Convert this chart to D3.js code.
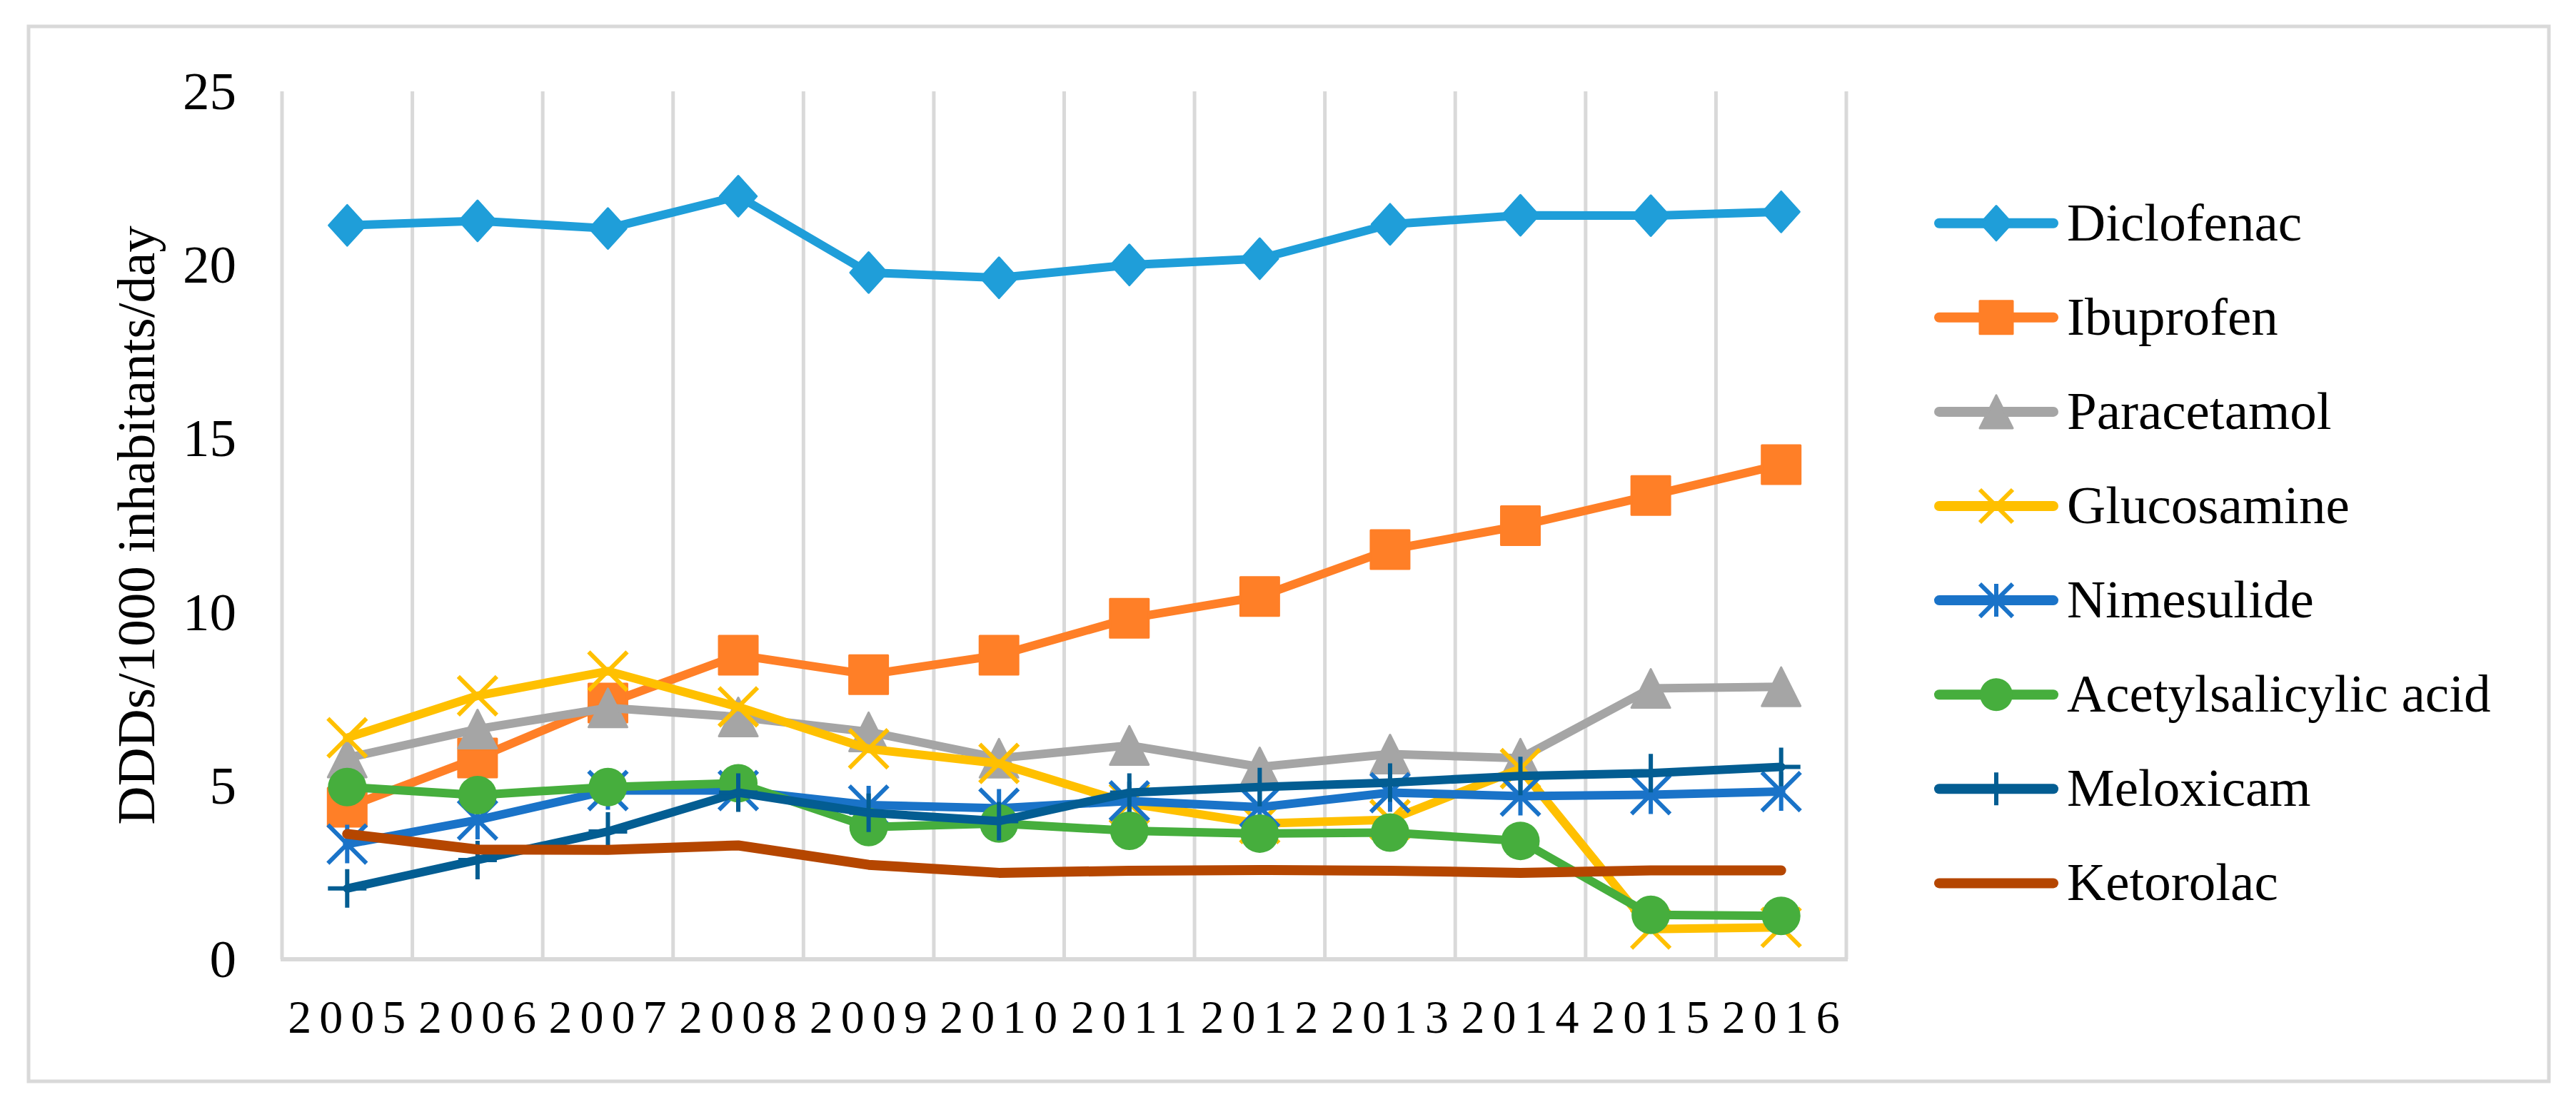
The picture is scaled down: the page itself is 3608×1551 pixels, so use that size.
<!DOCTYPE html>
<html>
<head>
<meta charset="utf-8">
<script src="https://cdn.jsdelivr.net/npm/d3@7"></script>
<style>
  body { margin: 0; background: #fff; }
  text { font-family: "Times New Roman", "Liberation Serif", serif; fill: #000; }
</style>
</head>
<body>
<div id="chart"></div>
<script>
// Data (DDDs/1000 inhabitants/day)
const years = ["2005", "2006", "2007", "2008", "2009", "2010", "2011", "2012", "2013", "2014", "2015", "2016"];
const yTicks = [0, 5, 10, 15, 20, 25];
const seriesNames = ["Diclofenac", "Ibuprofen", "Paracetamol", "Glucosamine", "Nimesulide", "Acetylsalicylic acid", "Meloxicam", "Ketorolac"];
const diclofenac = [21.14, 21.27, 21.05, 21.98, 19.78, 19.63, 20.00, 20.18, 21.17, 21.43, 21.42, 21.53];
const ibuprofen = [4.38, 5.80, 7.38, 8.76, 8.20, 8.76, 9.82, 10.45, 11.80, 12.49, 13.36, 14.25];
const paracetamol = [5.80, 6.63, 7.24, 6.98, 6.55, 5.79, 6.16, 5.54, 5.91, 5.79, 7.80, 7.85];
const glucosamine = [6.38, 7.59, 8.30, 7.27, 6.06, 5.64, 4.49, 3.91, 4.02, 5.49, 0.87, 0.92];
const nimesulide = [3.32, 4.01, 4.86, 4.86, 4.44, 4.35, 4.56, 4.38, 4.80, 4.70, 4.74, 4.83];
const acetylsalicylic = [4.96, 4.73, 4.96, 5.07, 3.81, 3.91, 3.70, 3.62, 3.65, 3.41, 1.28, 1.25];
const meloxicam = [2.04, 2.86, 3.68, 4.80, 4.22, 3.98, 4.80, 4.96, 5.09, 5.28, 5.36, 5.54];
const ketorolac = [3.61, 3.16, 3.15, 3.28, 2.72, 2.49, 2.55, 2.57, 2.55, 2.49, 2.56, 2.56];

const seriesValues = [diclofenac, ibuprofen, paracetamol, glucosamine, nimesulide, acetylsalicylic, meloxicam, ketorolac];
const colors = ["#1F9ED9", "#FF7F27", "#A5A5A5", "#FFC000", "#1A73C8", "#46AE3D", "#035D92", "#B54600"];
const markers = ["diamond", "square", "triangle", "x", "asterisk", "circle", "plus", "none"];

const width = 3608;
const height = 1551;

const svg = d3.select("#chart")
    .append("svg")
    .attr("width", width)
    .attr("height", height);

svg.append("rect")
    .attr("width", width)
    .attr("height", height)
    .attr("fill", "#fff");

// outer chart border
svg.append("rect")
    .attr("x", 40)
    .attr("y", 37)
    .attr("width", 3530)
    .attr("height", 1478)
    .attr("fill", "none")
    .attr("stroke", "#D9D9D9")
    .attr("stroke-width", 5);

// Scales
const x = d3.scaleBand()
    .domain(years)
    .range([395, 2586])
    .padding(0);

const y = d3.scaleLinear()
    .domain([0, 25])
    .range([1344, 128]);

// vertical gridlines at category boundaries
const gridX = years.map(d => x(d)).concat([x.range()[1]]);
svg.append("g")
    .selectAll("line")
    .data(gridX)
    .enter().append("line")
    .attr("x1", d => d)
    .attr("x2", d => d)
    .attr("y1", y(25))
    .attr("y2", y(0))
    .attr("stroke", "#D9D9D9")
    .attr("stroke-width", 5);

// category axis line
svg.append("line")
    .attr("x1", x.range()[0] - 2)
    .attr("x2", x.range()[1] + 2)
    .attr("y1", y(0))
    .attr("y2", y(0))
    .attr("stroke", "#D9D9D9")
    .attr("stroke-width", 6);

// y tick labels
svg.append("g")
    .selectAll("text")
    .data(yTicks)
    .enter().append("text")
    .attr("x", 331)
    .attr("y", d => y(d) + 25)
    .attr("text-anchor", "end")
    .style("font-size", "75px")
    .text(d => d);

// x tick labels (spread out like the original)
svg.append("g")
    .selectAll("text")
    .data(years)
    .enter().append("text")
    .attr("x", d => x(d) + x.bandwidth() / 2 + 5)
    .attr("y", 1447)
    .attr("text-anchor", "middle")
    .style("font-size", "66px")
    .style("letter-spacing", "11px")
    .text(d => d);

// y axis title
svg.append("text")
    .attr("transform", "translate(216," + ((y(0) + y(25)) / 2) + ") rotate(-90)")
    .attr("text-anchor", "middle")
    .style("font-size", "75px")
    .text("DDDs/1000 inhabitants/day");

// marker shapes, s = box size
function markerPath(type, s) {
    const h = s / 2;
    if (type === "diamond") return `M0,${-h * 1.05}L${h * 0.95},0L0,${h * 1.05}L${-h * 0.95},0Z`;
    if (type === "square") return `M${-h},${-h}H${h}V${h}H${-h}Z`;
    if (type === "triangle") return `M0,${-h}L${h},${h}L${-h},${h}Z`;
    if (type === "x") return `M${-h},${-h}L${h},${h}M${-h},${h}L${h},${-h}`;
    if (type === "asterisk") return `M${-h},${-h}L${h},${h}M${-h},${h}L${h},${-h}M0,${-h}V${h}`;
    if (type === "plus") return `M0,${-h}V${h}M${-h},0H${h}`;
    return "";
}

function drawMarker(g, type, color, s, cx, cy) {
    if (type === "none") return;
    if (type === "circle") {
        g.append("circle")
            .attr("cx", cx).attr("cy", cy).attr("r", s / 2)
            .attr("fill", color);
        return;
    }
    const open = (type === "x" || type === "asterisk" || type === "plus");
    g.append("path")
        .attr("transform", `translate(${cx},${cy})`)
        .attr("d", markerPath(type, s))
        .attr("fill", open ? "none" : color)
        .attr("stroke", color)
        .attr("stroke-width", open ? 6 : 3)
        .attr("stroke-linejoin", "round");
}

const line = d3.line()
    .x((d, i) => x(years[i]) + x.bandwidth() / 2)
    .y(d => y(d));

// series, drawn in order so later ones sit on top
seriesValues.forEach((vals, k) => {
    const g = svg.append("g");
    g.append("path")
        .datum(vals)
        .attr("d", line)
        .attr("fill", "none")
        .attr("stroke", colors[k])
        .attr("stroke-width", k === 7 ? 14 : 12)
        .attr("stroke-linejoin", "round")
        .attr("stroke-linecap", "round");
    vals.forEach((v, i) => {
        drawMarker(g, markers[k], colors[k], 54, x(years[i]) + x.bandwidth() / 2, y(v));
    });
});

// Legend
const legend = svg.append("g")
    .attr("class", "legend");

seriesNames.forEach((name, k) => {
    const ly = 312.7 + k * 132.1;
    const row = legend.append("g");
    row.append("line")
        .attr("x1", 2716)
        .attr("x2", 2876)
        .attr("y1", ly)
        .attr("y2", ly)
        .attr("stroke", colors[k])
        .attr("stroke-width", 14)
        .attr("stroke-linecap", "round");
    drawMarker(row, markers[k], colors[k], 46, 2796, ly);
    row.append("text")
        .attr("x", 2895)
        .attr("y", ly + 24)
        .style("font-size", "75px")
        .text(name);
});
</script>
</body>
</html>
